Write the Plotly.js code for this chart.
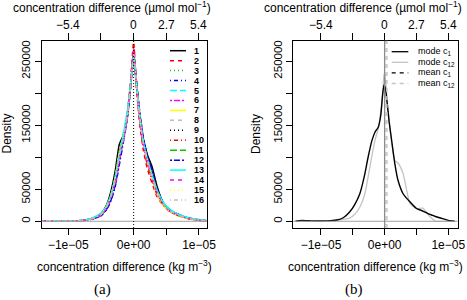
<!DOCTYPE html>
<html>
<head>
<meta charset="utf-8">
<script src="https://cdn.plot.ly/plotly-3.0.1.min.js"></script>
<style>
  html, body { margin: 0; padding: 0; background: #ffffff; }
  #chart { width: 467px; height: 300px; }
</style>
</head>
<body>
<div id="chart"></div>
<script>
// ---------- data: panel (a), 16 ensemble members on a shared grid ----------
const gridA = [-1.40e-5, -1.30e-5, -1.15e-5, -1.00e-5, -0.85e-5, -0.70e-5, -0.60e-5, -0.50e-5,
               -0.42e-5, -0.35e-5, -0.28e-5, -0.22e-5, -0.16e-5, -0.10e-5, -0.05e-5, 0.00,
                0.05e-5, 0.10e-5, 0.15e-5, 0.21e-5, 0.28e-5, 0.36e-5, 0.46e-5, 0.56e-5,
                0.68e-5, 0.82e-5, 0.96e-5, 1.12e-5];

const m1  = [300, 1000, 500, 400, 900, 2800, 6000, 12000, 24000, 46000, 80000, 120000, 134000, 164000, 208000, 256000, 204000, 160000, 128000, 104000, 86000, 54000, 27000, 16000, 10000, 5000, 2500, 800];
const m2  = [200, 700, 400, 500, 800, 2400, 5000, 9000, 18000, 34000, 60000, 96000, 128000, 165000, 215000, 280000, 200000, 146000, 110000, 82000, 60000, 38000, 24000, 15000, 9000, 4500, 2000, 600];
const m3  = [400, 800, 300, 400, 700, 2500, 5500, 11000, 21000, 38000, 66000, 100000, 130000, 160000, 208000, 262000, 210000, 160000, 124000, 97000, 72000, 46000, 26000, 16000, 10000, 5000, 2500, 900];
const m4  = [300, 600, 400, 300, 800, 2000, 4500, 8500, 17000, 31000, 55000, 88000, 122000, 158000, 205000, 256000, 212000, 165000, 130000, 102000, 80000, 50000, 28000, 17000, 11000, 5500, 2800, 900];
const m5  = [500, 1000, 600, 500, 1000, 3000, 6500, 12000, 23000, 41000, 70000, 104000, 136000, 170000, 212000, 258000, 206000, 157000, 122000, 96000, 72000, 47000, 28000, 18000, 11000, 6000, 3000, 1000];
const m6  = [300, 900, 400, 400, 700, 2300, 5000, 10000, 20000, 36000, 63000, 97000, 127000, 160000, 210000, 268000, 205000, 154000, 118000, 92000, 68000, 43000, 25000, 15000, 9500, 4800, 2300, 700];
const m7  = [200, 700, 300, 400, 800, 2600, 5600, 11000, 22000, 40000, 70000, 108000, 132000, 162000, 206000, 258000, 206000, 158000, 122000, 95000, 68000, 42000, 24000, 15000, 9000, 4500, 2200, 700];
const m8  = [300, 800, 400, 400, 800, 2400, 5200, 10000, 20000, 37000, 64000, 98000, 128000, 161000, 209000, 263000, 207000, 157000, 121000, 95000, 70000, 45000, 26000, 16000, 10000, 5000, 2500, 800];
const m9  = [300, 800, 400, 500, 900, 2700, 5800, 11000, 22000, 42000, 72000, 110000, 132000, 162000, 207000, 260000, 206000, 160000, 126000, 100000, 78000, 50000, 27000, 16000, 10000, 5000, 2400, 800];
const m10 = [200, 700, 400, 400, 700, 2200, 4800, 9500, 19000, 35000, 61000, 95000, 126000, 163000, 213000, 272000, 203000, 150000, 115000, 88000, 64000, 41000, 25000, 15000, 9000, 4500, 2100, 600];
const m11 = [400, 900, 500, 400, 800, 2600, 5500, 10500, 21000, 38000, 66000, 100000, 130000, 162000, 209000, 262000, 209000, 160000, 124000, 98000, 73000, 47000, 27000, 16000, 10000, 5000, 2500, 800];
const m12 = [300, 700, 400, 300, 700, 2100, 4600, 9000, 18000, 32000, 57000, 90000, 124000, 159000, 206000, 254000, 211000, 164000, 129000, 101000, 79000, 49000, 28000, 17000, 11000, 5500, 2700, 900];
const m13 = [500, 1000, 500, 500, 1000, 2900, 6300, 12000, 23000, 40000, 69000, 103000, 134000, 168000, 211000, 258000, 207000, 158000, 123000, 97000, 73000, 48000, 29000, 18000, 11000, 6000, 3000, 1000];
const m14 = [300, 800, 400, 400, 700, 2300, 5000, 10000, 20000, 36000, 62000, 96000, 127000, 161000, 211000, 266000, 205000, 155000, 119000, 93000, 69000, 44000, 25000, 15000, 9500, 4800, 2300, 700];
const m15 = [200, 700, 300, 400, 800, 2500, 5500, 11000, 22000, 39000, 68000, 105000, 131000, 162000, 207000, 259000, 206000, 158000, 122000, 95000, 69000, 43000, 25000, 15000, 9000, 4500, 2200, 700];
const m16 = [300, 900, 500, 400, 800, 2500, 5300, 10500, 20500, 38000, 65000, 99000, 129000, 162000, 210000, 261000, 208000, 158000, 122000, 96000, 71000, 46000, 26000, 16000, 10000, 5000, 2500, 800];
const memberLabels = ['1','2','3','4','5','6','7','8','9','10','11','12','13','14','15','16'];

// ---------- data: panel (b), summary densities ----------
const gridB = [-1.40e-5, -1.30e-5, -1.15e-5, -1.00e-5, -0.85e-5, -0.75e-5, -0.65e-5, -0.55e-5,
               -0.47e-5, -0.39e-5, -0.31e-5, -0.26e-5, -0.20e-5, -0.15e-5, -0.10e-5, -0.06e-5,
               -0.03e-5, -0.01e-5, 0.01e-5, 0.03e-5, 0.07e-5, 0.11e-5, 0.16e-5, 0.21e-5,
                0.29e-5, 0.40e-5, 0.50e-5, 0.60e-5, 0.70e-5, 0.80e-5, 0.90e-5, 1.00e-5, 1.10e-5];
const modeC1  = [300, 1200, 600, 500, 1000, 2000, 5500, 14500, 26000, 43000, 74500, 100000, 126000, 139500, 147000, 166000, 199500, 213000, 209000, 194000, 156000, 126500, 90000, 64000, 43000, 30000, 20000, 16000, 11000, 7500, 4500, 1500, 0];
const modeC12 = [200, 800, 400, 300, 500, 1200, 3000, 5000, 11000, 22000, 43000, 69000, 102000, 127000, 145000, 172000, 200000, 230000, 224000, 200000, 158000, 124000, 95000, 91000, 74500, 27500, 20000, 20500, 8500, 0, 0, 0, 0];
const meanC1  = 0.0;
const meanC12 = 0.35e-6;
const summaryLabels = ['mode c<sub>1</sub>', 'mode c<sub>12</sub>', 'mean c<sub>1</sub>', 'mean c<sub>12</sub>'];

// ---------- axis ticks ----------
const bottomTickVals = [-1e-5, 0, 1e-5];
const bottomTickText = ['\u22121e\u221205', '0e+00', '1e\u221205'];
const bottomMinorVals = [-0.5e-5, 0.5e-5];
const topTickVals = [-5.4, -2.7, 0, 2.7, 5.4];
const topTickText = ['\u22125.4', '', '0', '2.7', '5.4'];
const yTickVals = [0, 50000, 150000, 250000];
const yTickText = ['0', '50000', '150000', '250000'];
const yMinorVals = [100000, 200000];
const ppmPerKg = 5.4 / 1e-5;   // µmol mol-1 per kg m-3

// ---------- styling ----------
const W = 467, H = 300;
const px = x => x / W;
const py = y => 1 - y / H;
const FONT = 'Liberation Sans, Arial, sans-serif';
const palette = ['#000000', '#ff0000', '#00cd00', '#0000ff', '#00ffff', '#ff00ff', '#ffff00', '#bebebe'];
const ltys = ['solid', '4px,4px', '1px,3px', '1px,3px,4px,3px', '7px,3px', '2px,2px,6px,2px'];
const lightGray = '#c4c4c4';

const members = [m1, m2, m3, m4, m5, m6, m7, m8, m9, m10, m11, m12, m13, m14, m15, m16];

const rangeA = [-1.407e-5, 1.118e-5];
const rangeB = [-1.435e-5, 1.148e-5];
const yRange = [-10500, 282000];

const traces = [];
members.forEach((vals, i) => {
  traces.push({
    type: 'scatter', mode: 'lines', x: gridA, y: vals, xaxis: 'x', yaxis: 'y',
    line: { color: palette[i % 8], dash: ltys[i % 6], width: 1.5, shape: 'spline', smoothing: 0.5 },
    hoverinfo: 'skip', showlegend: false
  });
});
traces.push({ type: 'scatter', mode: 'lines', x: gridB, y: modeC12, xaxis: 'x3', yaxis: 'y2',
  line: { color: lightGray, width: 1.3, shape: 'spline', smoothing: 0.5 }, hoverinfo: 'skip', showlegend: false });
traces.push({ type: 'scatter', mode: 'lines', x: gridB, y: modeC1, xaxis: 'x3', yaxis: 'y2',
  line: { color: '#000000', width: 1.4, shape: 'spline', smoothing: 0.5 }, hoverinfo: 'skip', showlegend: false });
// carriers for the secondary (top) axes
traces.push({ type: 'scatter', mode: 'lines', x: [], y: [], xaxis: 'x2', yaxis: 'y', showlegend: false, hoverinfo: 'skip' });
traces.push({ type: 'scatter', mode: 'lines', x: [], y: [], xaxis: 'x4', yaxis: 'y2', showlegend: false, hoverinfo: 'skip' });

const tickFont = { family: FONT, size: 12, color: '#000' };
function bottomAxis(domain, range, anchor) {
  return { domain, range, anchor, tickvals: bottomTickVals, ticktext: bottomTickText,
    ticks: 'outside', ticklen: 6, tickcolor: '#000', tickwidth: 1,
    minor: { tickvals: bottomMinorVals, ticks: 'outside', ticklen: 6, tickcolor: '#000', tickwidth: 1, showgrid: false },
    showline: true, mirror: true, linecolor: '#000', linewidth: 1,
    showgrid: false, zeroline: false, tickfont: tickFont, fixedrange: true };
}
// top axis: ticks from the axis, labels set a little further out as annotations below
function topAxis(over, range, anchor) {
  return { overlaying: over, side: 'top', anchor, range: [range[0] * ppmPerKg, range[1] * ppmPerKg],
    tickvals: topTickVals, ticks: 'outside', ticklen: 7, tickcolor: '#000', showticklabels: false,
    showline: false, showgrid: false, zeroline: false, fixedrange: true };
}
function leftAxis(anchor) {
  return { domain: [py(228), py(40.7)], range: yRange, anchor, tickvals: yTickVals, ticktext: yTickText,
    tickangle: -90, ticks: 'outside', ticklen: 6, tickcolor: '#000',
    minor: { tickvals: yMinorVals, ticks: 'outside', ticklen: 6, tickcolor: '#000', tickwidth: 1, showgrid: false },
    showline: true, mirror: true, linecolor: '#000', linewidth: 1,
    showgrid: false, zeroline: false, tickfont: { family: FONT, size: 11.5, color: '#000' }, fixedrange: true };
}

const shapes = [
  // panel (a) reference lines
  { type: 'line', xref: 'x domain', yref: 'y', x0: 0, x1: 1, y0: 0, y1: 0, line: { color: '#a0a0a0', width: 1 } },
  { type: 'line', xref: 'x', yref: 'y domain', x0: 0, x1: 0, y0: 0, y1: 1, line: { color: '#000', width: 1, dash: '1px,2px' } },
  // panel (b) reference lines: means, then the zero line on top
  { type: 'line', xref: 'x3 domain', yref: 'y2', x0: 0, x1: 1, y0: 0, y1: 0, line: { color: '#a0a0a0', width: 1 } },
  { type: 'line', xref: 'x3', yref: 'y2 domain', x0: meanC1, x1: meanC1, y0: 0, y1: 1, line: { color: '#000', width: 1, dash: '4px,4px' } },
  { type: 'line', xref: 'x3', yref: 'y2 domain', x0: meanC12, x1: meanC12, y0: 0, y1: 1, line: { color: lightGray, width: 1.5, dash: '4px,4px' } },
  { type: 'line', xref: 'x3', yref: 'y2 domain', x0: 0, x1: 0, y0: 0, y1: 1, line: { color: '#8c8c8c', width: 1.3 } }
];

const annotations = [];
// top-axis tick labels, positioned by the top axis scale
['x2', 'x4'].forEach(ax => {
  topTickVals.forEach((v, i) => {
    if (!topTickText[i]) return;
    annotations.push({ xref: ax, yref: 'paper', x: v, y: py(25), xanchor: 'center', yanchor: 'middle',
      text: topTickText[i], showarrow: false, font: tickFont });
  });
});
// panel (a) legend
memberLabels.forEach((lab, i) => {
  const yy = 50.7 + i * 9.95;
  shapes.push({ type: 'line', xref: 'paper', yref: 'paper', x0: px(170), x1: px(186), y0: py(yy), y1: py(yy),
    line: { color: palette[i % 8], dash: ltys[i % 6], width: 1.5 } });
  annotations.push({ xref: 'paper', yref: 'paper', x: px(192), y: py(yy), xanchor: 'left', yanchor: 'middle',
    text: lab, showarrow: false, font: { family: FONT, size: 9, weight: 'bold', color: '#000' } });
});
// panel (b) legend
const sumStyles = [
  { color: '#000', dash: 'solid' }, { color: lightGray, dash: 'solid' },
  { color: '#000', dash: '4px,4px' }, { color: lightGray, dash: '4px,4px' }
];
summaryLabels.forEach((lab, i) => {
  const yy = 51.7 + i * 10.6;
  shapes.push({ type: 'line', xref: 'paper', yref: 'paper', x0: px(391.7), x1: px(408.3), y0: py(yy), y1: py(yy),
    line: { color: sumStyles[i].color, dash: sumStyles[i].dash, width: 1.3 } });
  annotations.push({ xref: 'paper', yref: 'paper', x: px(415.5), y: py(yy), xanchor: 'left', yanchor: 'middle',
    text: lab, showarrow: false, font: { family: FONT, size: 9, color: '#000' } });
});

// axis titles and panel captions
function txt(x, y, text, size, extra) {
  return Object.assign({ xref: 'paper', yref: 'paper', x: px(x), y: py(y), xanchor: 'center', yanchor: 'middle',
    text, showarrow: false, font: { family: FONT, size, color: '#000' } }, extra || {});
}
annotations.push(txt(112, 7, 'concentration difference (\u00b5mol mol<sup>\u22121</sup>)', 12));
annotations.push(txt(363, 7, 'concentration difference (\u00b5mol mol<sup>\u22121</sup>)', 12));
annotations.push(txt(124, 266, 'concentration difference (kg m<sup>\u22123</sup>)', 12));
annotations.push(txt(375.5, 266, 'concentration difference (kg m<sup>\u22123</sup>)', 12));
annotations.push(txt(6.5, 134, 'Density', 12, { textangle: -90 }));
annotations.push(txt(256, 134, 'Density', 12, { textangle: -90 }));
annotations.push(txt(102, 289, '(a)', 15, { font: { family: 'Liberation Serif, Times New Roman, serif', size: 15, color: '#000' } }));
annotations.push(txt(353.5, 289, '(b)', 15, { font: { family: 'Liberation Serif, Times New Roman, serif', size: 15, color: '#000' } }));

const layout = {
  width: W, height: H, margin: { l: 0, r: 0, t: 0, b: 0 },
  paper_bgcolor: '#ffffff', plot_bgcolor: '#ffffff', showlegend: false,
  font: { family: FONT, color: '#000' },
  xaxis: bottomAxis([px(41.7), px(206.7)], rangeA, 'y'),
  xaxis2: topAxis('x', rangeA, 'y'),
  yaxis: leftAxis('x'),
  xaxis3: bottomAxis([px(293.3), px(457.7)], rangeB, 'y2'),
  xaxis4: topAxis('x3', rangeB, 'y2'),
  yaxis2: leftAxis('x3'),
  shapes, annotations
};

Plotly.newPlot('chart', traces, layout, { staticPlot: true, displayModeBar: false });
</script>
</body>
</html>
